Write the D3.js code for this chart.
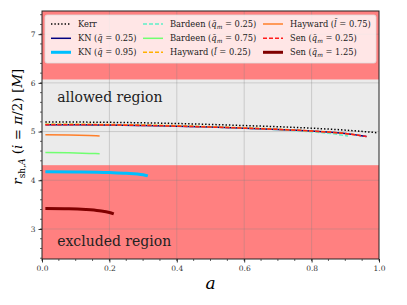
<!DOCTYPE html>
<html>
<head>
<meta charset="utf-8">
<script src="https://cdn.jsdelivr.net/npm/d3@7"></script>
<style>
  body { margin: 0; background: #fff; }
</style>
</head>
<body>
<svg id="chart"></svg>
<script>
// chart size
const width = 407;
const height = 305;
const margin = { top: 11, right: 28, bottom: 46, left: 42 };
const serif = "DejaVu Serif";

// curves: [a, r_sh] pairs
const kerr = [[0.01, 5.198], [0.1, 5.196], [0.2, 5.19], [0.3, 5.18], [0.4, 5.166], [0.5, 5.147], [0.6, 5.124], [0.7, 5.1], [0.8, 5.07], [0.9, 5.03], [0.998, 4.975]];
const kn025 = [[0.01, 5.141], [0.1, 5.14], [0.2, 5.135], [0.3, 5.125], [0.4, 5.11], [0.5, 5.092], [0.6, 5.07], [0.7, 5.045], [0.8, 5.01], [0.9, 4.96], [0.963, 4.9]];
const kn095 = [[0.01, 4.175], [0.1, 4.17], [0.2, 4.158], [0.25, 4.145], [0.3, 4.115], [0.314, 4.09]];
const bardeen025 = [[0.01, 5.15], [0.1, 5.148], [0.2, 5.14], [0.3, 5.13], [0.4, 5.115], [0.5, 5.095], [0.6, 5.07], [0.7, 5.04], [0.8, 4.995], [0.85, 4.965], [0.908, 4.91]];
const bardeen075 = [[0.01, 4.57], [0.08, 4.563], [0.14, 4.552], [0.171, 4.545]];
const hayward025 = [[0.01, 5.153], [0.1, 5.151], [0.2, 5.145], [0.3, 5.135], [0.4, 5.12], [0.5, 5.1], [0.6, 5.077], [0.7, 5.05], [0.8, 5.012], [0.9, 4.96], [0.94, 4.925]];
const hayward075 = [[0.01, 4.935], [0.08, 4.93], [0.14, 4.92], [0.171, 4.912]];
const sen025 = [[0.01, 5.142], [0.1, 5.141], [0.2, 5.136], [0.3, 5.126], [0.4, 5.111], [0.5, 5.093], [0.6, 5.07], [0.7, 5.045], [0.8, 5.01], [0.9, 4.96], [0.963, 4.9]];
const sen125 = [[0.01, 3.42], [0.08, 3.415], [0.13, 3.4], [0.17, 3.375], [0.2, 3.34], [0.213, 3.31]];

// region boundaries
const excludedTop = 4.31;
const allowedTop = 6.07;

// ticks
const xTicks = [0.0, 0.2, 0.4, 0.6, 0.8, 1.0];
const yTicks = [3, 4, 5, 6, 7];

// legend entries, column-major order
const series = [
  { label: "Kerr", data: kerr, color: "#000", width: 1.5, dash: "1.4,2" },
  { label: "KN", sym: "q̄", sub: "", val: "0.25", data: kn025, color: "#000080", width: 1.5, dash: null },
  { label: "KN", sym: "q̄", sub: "", val: "0.95", data: kn095, color: "#00bfff", width: 3, dash: null },
  { label: "Bardeen", sym: "q̄", sub: "m", val: "0.25", data: bardeen025, color: "#5ff0c8", width: 1.5, dash: "4,2" },
  { label: "Bardeen", sym: "q̄", sub: "m", val: "0.75", data: bardeen075, color: "#70ff70", width: 1.5, dash: null },
  { label: "Hayward", sym: "l̄", sub: "", val: "0.25", data: hayward025, color: "#ffb000", width: 1.5, dash: "4,2" },
  { label: "Hayward", sym: "l̄", sub: "", val: "0.75", data: hayward075, color: "#ff7f2a", width: 1.5, dash: null },
  { label: "Sen", sym: "q̄", sub: "m", val: "0.25", data: sen025, color: "#ff1a1a", width: 1.5, dash: "4,2" },
  { label: "Sen", sym: "q̄", sub: "m", val: "1.25", data: sen125, color: "#800000", width: 3, dash: null }
];

const svg = d3.select("#chart")
  .attr("width", width)
  .attr("height", height)
  .style("font-family", serif);

const x = d3.scaleLinear().domain([0, 1]).range([margin.left, width - margin.right]);
const y = d3.scaleLinear().domain([2.384, 7.476]).range([height - margin.bottom, margin.top]);

const plotW = width - margin.left - margin.right;

// background: allowed region (gray), excluded regions (red)
svg.append("rect")
  .attr("x", margin.left).attr("y", margin.top)
  .attr("width", plotW).attr("height", y.range()[0] - margin.top)
  .attr("fill", "#ebebeb");

svg.append("rect")
  .attr("x", margin.left).attr("y", y(excludedTop))
  .attr("width", plotW).attr("height", y(y.domain()[0]) - y(excludedTop))
  .attr("fill", "#ff8080");

svg.append("rect")
  .attr("x", margin.left).attr("y", y(y.domain()[1]))
  .attr("width", plotW).attr("height", y(allowedTop) - y(y.domain()[1]))
  .attr("fill", "#ff8080");

// grid
const grid = svg.append("g").attr("stroke", "#808080").attr("stroke-opacity", 0.35).attr("stroke-width", 0.9);
grid.selectAll(".gx").data(xTicks.slice(1, -1)).enter().append("line")
  .attr("x1", d => x(d)).attr("x2", d => x(d))
  .attr("y1", margin.top).attr("y2", y.range()[0]);
grid.selectAll(".gy").data(yTicks).enter().append("line")
  .attr("x1", margin.left).attr("x2", x(1))
  .attr("y1", d => y(d)).attr("y2", d => y(d));

// region labels
svg.append("text")
  .attr("x", x(0.045)).attr("y", y(5.6))
  .style("font-family", serif)
  .attr("font-size", 14).attr("fill", "#222")
  .text("allowed region");
svg.append("text")
  .attr("x", x(0.045)).attr("y", y(2.66))
  .style("font-family", serif)
  .attr("font-size", 14).attr("fill", "#222")
  .text("excluded region");

// curves
const line = d3.line()
  .x(d => x(d[0]))
  .y(d => y(d[1]))
  .curve(d3.curveMonotoneX);

svg.selectAll(".curve").data(series).enter().append("path")
  .attr("d", d => line(d.data))
  .attr("fill", "none")
  .attr("stroke", d => d.color)
  .attr("stroke-width", d => d.width)
  .attr("stroke-dasharray", d => d.dash);

// axes
const xAxis = d3.axisBottom(x).tickValues(xTicks).tickFormat(d3.format(".1f")).tickSize(3.5).tickPadding(3);
const yAxis = d3.axisLeft(y).tickValues(yTicks).tickFormat(d3.format("d")).tickSize(3.5).tickPadding(3);

const gx = svg.append("g").attr("transform", `translate(0,${y.range()[0]})`).call(xAxis);
const gy = svg.append("g").attr("transform", `translate(${margin.left},0)`).call(yAxis);

// minor ticks
gx.selectAll(".minor").data(d3.range(0, 1.0001, 0.05)).enter().append("line")
  .attr("x1", d => x(d)).attr("x2", d => x(d)).attr("y1", 0).attr("y2", 2)
  .attr("stroke", "#000").attr("stroke-width", 0.6);
gy.selectAll(".minor").data(d3.range(2.4, 7.45, 0.2)).enter().append("line")
  .attr("y1", d => y(d)).attr("y2", d => y(d)).attr("x1", 0).attr("x2", -2)
  .attr("stroke", "#000").attr("stroke-width", 0.6);

[gx, gy].forEach(g => {
  g.attr("font-family", null).style("font-family", serif);
  g.select(".domain").remove();
  g.selectAll("text").attr("font-size", 7.5).attr("fill", "#333");
  g.selectAll(".tick line").attr("stroke", "#000").attr("stroke-width", 0.8);
});

// frame
svg.append("rect")
  .attr("x", margin.left).attr("y", margin.top)
  .attr("width", plotW).attr("height", y.range()[0] - margin.top)
  .attr("fill", "none").attr("stroke", "#222").attr("stroke-width", 1);

// axis labels
svg.append("text")
  .attr("x", x(0.5)).attr("y", 289)
  .attr("text-anchor", "middle")
  .attr("font-size", 17).attr("font-style", "italic")
  .text("a");

const ylab = svg.append("text")
  .attr("transform", `translate(22,${y(5.1)}) rotate(-90)`)
  .attr("text-anchor", "middle")
  .attr("font-size", 13.5);
ylab.append("tspan").attr("font-style", "italic").text("r");
ylab.append("tspan").attr("font-size", 9).attr("dy", 3).text("sh,");
ylab.append("tspan").attr("font-size", 9).attr("font-style", "italic").text("A");
ylab.append("tspan").attr("dy", -3).text(" (");
ylab.append("tspan").attr("font-style", "italic").text("i");
ylab.append("tspan").text(" = ");
ylab.append("tspan").attr("font-style", "italic").text("π");
ylab.append("tspan").text("/2) [");
ylab.append("tspan").attr("font-style", "italic").text("M");
ylab.append("tspan").text("]");

// legend
const legend = svg.append("g");
legend.append("rect")
  .attr("x", 45).attr("y", 15).attr("width", 331).attr("height", 48).attr("rx", 2)
  .attr("fill", "#fff").attr("fill-opacity", 0.8)
  .attr("stroke", "#ddd").attr("stroke-width", 0.8);

const colX = [51, 143, 263];
const rowY = [24, 38.3, 52.3];

const items = legend.selectAll(".item").data(series).enter().append("g")
  .attr("transform", (d, i) => `translate(${colX[Math.floor(i / 3)]},${rowY[i % 3]})`);

items.append("line")
  .attr("x1", 0).attr("x2", 20).attr("y1", 0).attr("y2", 0)
  .attr("stroke", d => d.color)
  .attr("stroke-width", d => d.width)
  .attr("stroke-dasharray", d => d.dash);

items.each(function(d) {
  const t = d3.select(this).append("text")
    .attr("x", 27).attr("y", 3)
    .attr("font-size", 8.3).attr("fill", "#222");
  if (!d.sym) { t.text(d.label); return; }
  t.append("tspan").text(d.label + " (");
  t.append("tspan").attr("font-style", "italic").text(d.sym);
  if (d.sub) {
    t.append("tspan").attr("font-size", 6).attr("font-style", "italic").attr("dy", 2).text(d.sub);
    t.append("tspan").attr("dy", -2).text(" = " + d.val + ")");
  } else {
    t.append("tspan").text(" = " + d.val + ")");
  }
});
</script>
</body>
</html>
